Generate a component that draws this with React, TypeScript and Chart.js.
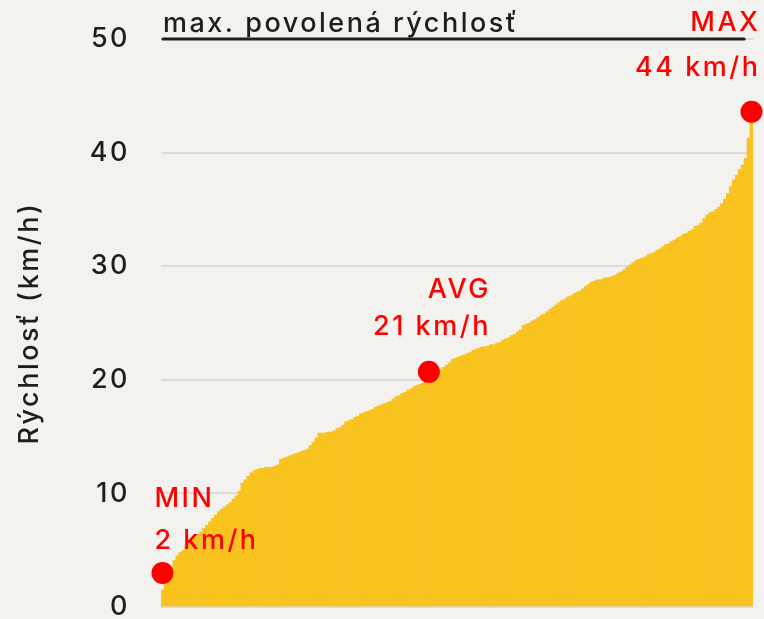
import React, { useEffect, useRef } from "react";
import { Chart, registerables } from "chart.js";

Chart.register(...registerables);

// Sorted speed values (km/h), one per bar
const speeds = [
  1.5, 2.3, 3.0, 3.5, 4.1, 4.5, 4.8, 5.0, 5.3, 5.6,
  5.9, 6.1, 6.4, 6.6, 6.9, 7.2, 7.5, 7.8, 8.1, 8.4,
  8.6, 8.8, 9.0, 9.2, 9.5, 9.8, 10.2, 10.9, 11.2, 11.5,
  11.8, 12.0, 12.1, 12.2, 12.2, 12.3, 12.3, 12.3, 12.4, 12.5,
  13.0, 13.1, 13.2, 13.3, 13.4, 13.5, 13.6, 13.7, 13.8, 13.9,
  14.2, 14.5, 14.9, 15.3, 15.3, 15.3, 15.4, 15.4, 15.5, 15.7,
  15.8, 16.0, 16.3, 16.4, 16.5, 16.7, 16.8, 17.0, 17.1, 17.2,
  17.3, 17.4, 17.6, 17.7, 17.8, 17.9, 18.0, 18.1, 18.3, 18.5,
  18.6, 18.8, 18.9, 19.1, 19.2, 19.4, 19.5, 19.6, 19.7, 19.9,
  20.0, 20.3, 20.5, 20.7, 20.9, 21.1, 21.3, 21.5, 21.8, 21.9,
  22.0, 22.1, 22.2, 22.3, 22.4, 22.6, 22.7, 22.8, 22.9, 22.9,
  23.0, 23.1, 23.1, 23.2, 23.3, 23.5, 23.6, 23.7, 23.9, 24.0,
  24.2, 24.4, 24.8, 24.9, 25.0, 25.2, 25.3, 25.5, 25.7, 25.8,
  26.0, 26.2, 26.4, 26.6, 26.8, 27.0, 27.1, 27.3, 27.4, 27.6,
  27.7, 27.8, 28.0, 28.2, 28.4, 28.6, 28.7, 28.8, 28.8, 28.9,
  29.0, 29.0, 29.1, 29.2, 29.4, 29.5, 29.7, 29.9, 30.1, 30.3,
  30.5, 30.6, 30.7, 30.8, 31.0, 31.1, 31.2, 31.4, 31.5, 31.7,
  31.9, 32.0, 32.2, 32.3, 32.5, 32.6, 32.8, 32.9, 33.1, 33.2,
  33.5, 33.6, 33.8, 34.2, 34.5, 34.7, 34.8, 35.0, 35.2, 35.5,
  35.9, 36.4, 37.0, 37.6, 38.0, 38.5, 38.9, 39.5, 41.3, 43.7,
];

const categories = speeds.map((_, i) => String(i + 1));

const yMin = 0;
const yMax = 50;
const yStep = 10;

const speedLimit = 50;
const speedLimitEndIndex = 196;
const speedLimitLabel = "max. povolená rýchlosť";
const yAxisTitle = "Rýchlosť (km/h)";

const markerIndex = [0, 90, 199];
const markerValue = [3.0, 20.7, 43.6];
const markerName = ["MIN", "AVG", "MAX"];
const markerText = ["2 km/h", "21 km/h", "44 km/h"];

const FONT = "Inter";
const FONT_SIZE = 27;
const BG = "#f3f2ef";
const YELLOW = "#f9c31f";
const RED = "#ff0000";
const INK = "#1e1e1e";

const markerData = categories.map((_, i) => {
  const k = markerIndex.indexOf(i);
  return k >= 0 ? markerValue[k] : null;
});

const spacingPlugin = {
  id: "spacing",
  beforeDraw(chart: any) {
    chart.ctx.letterSpacing = "2.5px";
  },
};

const annotationPlugin = {
  id: "annotations",
  afterDatasetsDraw(chart: any) {
    const ctx = chart.ctx;
    const x = chart.scales.x;
    const y = chart.scales.y;
    const area = chart.chartArea;
    ctx.save();
    ctx.letterSpacing = "2.5px";
    // speed limit line
    const ly = y.getPixelForValue(speedLimit);
    const half = (x.getPixelForValue(1) - x.getPixelForValue(0)) / 2;
    ctx.strokeStyle = INK;
    ctx.lineWidth = 3;
    ctx.lineCap = "round";
    ctx.beginPath();
    ctx.moveTo(area.left + 2, ly);
    ctx.lineTo(x.getPixelForValue(speedLimitEndIndex) + half, ly);
    ctx.stroke();
    ctx.fillStyle = INK;
    ctx.font = `500 ${FONT_SIZE}px ${FONT}`;
    ctx.textAlign = "left";
    ctx.textBaseline = "alphabetic";
    ctx.fillText(speedLimitLabel, area.left + 2, ly - 7);

    // marker labels
    ctx.fillStyle = RED;
    ctx.font = `500 ${FONT_SIZE}px ${FONT}`;
    ctx.textBaseline = "middle";
    const layouts = [
      { align: "left", dx: -8, d1: -74, d2: -32 },
      { align: "right", dx: 62, d1: -82, d2: -45 },
      { align: "right", dx: 9, d1: -89, d2: -44 },
    ];
    markerIndex.forEach((idx, k) => {
      const px = x.getPixelForValue(idx);
      const py = y.getPixelForValue(markerValue[k]);
      const l = layouts[k];
      ctx.textAlign = l.align;
      ctx.fillText(markerName[k], px + l.dx, py + l.d1);
      ctx.fillText(markerText[k], px + l.dx, py + l.d2);
    });
    ctx.restore();
  },
};

export default function App() {
  const ref = useRef<HTMLCanvasElement | null>(null);
  useEffect(() => {
    if (!ref.current) return;
    const chart = new Chart(ref.current, {
      type: "bar",
      data: {
        labels: categories,
        datasets: [
          {
            type: "line",
            data: markerData,
            showLine: false,
            pointRadius: 11,
            pointHoverRadius: 11,
            pointBackgroundColor: RED,
            pointBorderWidth: 0,
            borderColor: RED,
            clip: false,
            order: 0,
          } as any,
          {
            type: "bar",
            data: speeds,
            backgroundColor: YELLOW,
            borderWidth: 0,
            barPercentage: 1,
            categoryPercentage: 1,
            order: 1,
          },
        ],
      },
      options: {
        animation: false,
        responsive: false,
        maintainAspectRatio: false,
        devicePixelRatio: 1,
        layout: { padding: { top: 39, bottom: 12, right: 10, left: 0 } },
        plugins: {
          legend: { display: false },
          tooltip: { enabled: false },
        },
        scales: {
          x: { display: false },
          y: {
            min: yMin,
            max: yMax,
            afterFit: (s: any) => {
              s.width = 161;
              s.paddingTop = 0;
              s.paddingBottom = 0;
            },
            border: { display: false },
            grid: {
              color: "#dcdbd8",
              lineWidth: 2,
              drawTicks: false,
            },
            ticks: {
              stepSize: yStep,
              padding: 31,
              color: INK,
              font: { family: FONT, size: FONT_SIZE, weight: 500 as any },
            },
            title: {
              display: true,
              text: yAxisTitle,
              color: INK,
              padding: { top: 14, bottom: 0 },
              font: { family: FONT, size: FONT_SIZE, weight: 500 as any },
            },
          },
        },
      },
      plugins: [spacingPlugin, annotationPlugin],
    });
    return () => chart.destroy();
  }, []);
  return (
    <div
      style={{
        position: "fixed",
        left: 0,
        top: 0,
        width: 764,
        height: 619,
        background: BG,
      }}
    >
      <canvas
        ref={ref}
        width={764}
        height={619}
        style={{ display: "block", width: 764, height: 619 }}
      />
    </div>
  );
}
